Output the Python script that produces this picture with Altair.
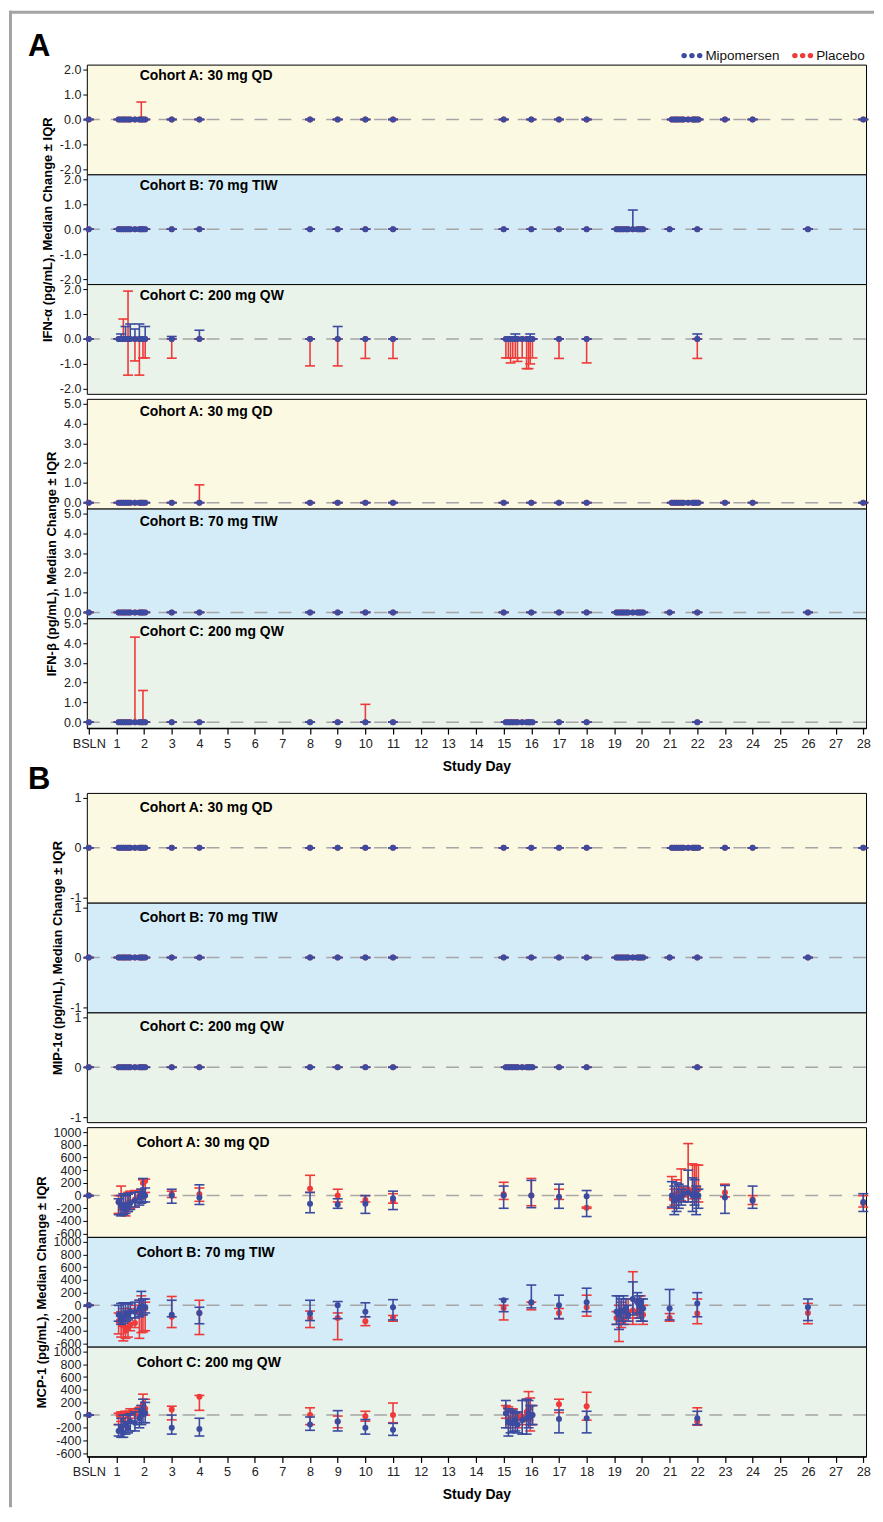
import altair as alt
import pandas as pd

FONT = "Liberation Sans"

# ---------------- categories / axes ----------------
COHORTS = ["A", "B", "C"]
COHORT_LABELS = {"A": "Cohort A: 30 mg QD", "B": "Cohort B: 70 mg TIW", "C": "Cohort C: 200 mg QW"}
SERIES_DRAW = ["Placebo", "Mipomersen"]
LEGEND_ORDER = ["Mipomersen", "Placebo"]
SERIES_COLORS = ["#3B4BA0", "#EF3A3A"]
PANEL_FILLS = {"A": "#FCF9E3", "B": "#D3ECF8", "C": "#EAF3EA"}
X_TICKS = [0, 1, 2, 3, 4, 5, 6, 7, 8, 9, 10, 11, 12, 13, 14, 15, 16, 17, 18, 19, 20,
           21, 22, 23, 24, 25, 26, 27, 28]

DAYS = {
    "A": [0, 1.08, 1.17, 1.25, 1.33, 1.42, 1.5, 1.67, 1.83, 1.9, 1.96, 2.04, 3, 4, 8, 9, 10, 11,
          15, 16, 17, 18, 21.08, 21.17, 21.25, 21.33, 21.42, 21.5, 21.67, 21.83, 21.9, 21.96, 22.04,
          23, 24, 28],
    "B": [0, 1.08, 1.17, 1.25, 1.33, 1.42, 1.5, 1.67, 1.83, 1.9, 1.96, 2.04, 3, 4, 8, 9, 10, 11,
          15, 16, 17, 18, 19.08, 19.17, 19.25, 19.33, 19.42, 19.5, 19.67, 19.83, 19.9, 19.96, 20.04,
          21, 22, 26],
    "C": [0, 1.08, 1.17, 1.25, 1.33, 1.42, 1.5, 1.67, 1.83, 1.9, 1.96, 2.04, 3, 4, 8, 9, 10, 11,
          15.08, 15.17, 15.25, 15.33, 15.42, 15.5, 15.67, 15.83, 15.9, 15.96, 16.04, 17, 18, 22],
}

# ---------------- values (median, IQR low, IQR high) ----------------
NO_CHANGE_36 = [0, 0, 0, 0, 0, 0, 0, 0, 0, 0, 0, 0, 0, 0, 0, 0, 0, 0,
                0, 0, 0, 0, 0, 0, 0, 0, 0, 0, 0, 0, 0, 0, 0, 0, 0, 0]
NO_CHANGE_32 = [0, 0, 0, 0, 0, 0, 0, 0, 0, 0, 0, 0, 0, 0, 0, 0,
                0, 0, 0, 0, 0, 0, 0, 0, 0, 0, 0, 0, 0, 0, 0, 0]

# IFN-alpha
IFNA_A_PLA_HI = [0, 0, 0, 0, 0, 0, 0, 0, 0, 0.7, 0, 0, 0, 0, 0, 0, 0, 0,
                 0, 0, 0, 0, 0, 0, 0, 0, 0, 0, 0, 0, 0, 0, 0, 0, 0, 0]
IFNA_B_MIPO_HI = [0, 0, 0, 0, 0, 0, 0, 0, 0, 0, 0, 0, 0, 0, 0, 0, 0, 0,
                  0, 0, 0, 0, 0, 0, 0, 0, 0, 0, 0.77, 0, 0, 0, 0, 0, 0, 0]
IFNA_C_MIPO_HI = [0, 0, 0.2, 0, 0.5, 0, 0.6, 0.4, 0.6, 0, 0, 0.5, 0.1, 0.35, 0, 0.5,
                  0, 0, 0, 0, 0, 0, 0.2, 0, 0, 0, 0, 0.2, 0, 0, 0, 0.2]
IFNA_C_PLA_LO = [0, 0, 0, 0, 0, -1.45, 0, -0.88, -1.45, 0, -0.76, -0.76, -0.77, 0, -1.08, -1.08,
                 -0.78, -0.78, -0.76, -0.76, -0.96, -0.76, -0.76, -0.9, -0.76, -1.19, -1.19, -1.0,
                 -0.76, -0.78, -0.96, -0.78]
IFNA_C_PLA_HI = [0, 0, 0, 0.8, 0, 1.92, 0, 0, 0, 0, 0, 0, 0, 0, 0, 0,
                 0, 0, 0, 0, 0, 0, 0, 0, 0, 0, 0, 0, 0, 0, 0, 0]

# IFN-beta
IFNB_A_PLA_HI = [0, 0, 0, 0, 0, 0, 0, 0, 0, 0, 0, 0, 0, 0.9, 0, 0, 0, 0,
                 0, 0, 0, 0, 0, 0, 0, 0, 0, 0, 0, 0, 0, 0, 0, 0, 0, 0]
IFNB_C_PLA_HI = [0, 0, 0, 0, 0, 0, 0, 4.3, 0, 0, 1.6, 0, 0, 0, 0, 0,
                 0.9, 0, 0, 0, 0, 0, 0, 0, 0, 0, 0, 0, 0, 0, 0, 0]

# MCP-1
MCP_A_MIPO_MED = [0, -100, -150, -200, -150, -180, -120, -80, -30, 0, 30, 0, 0, -30, -130, -140, -130, -40,
                  0, 0, -20, -10, 0, -80, -50, -30, -20, 30, 50, 0, 30, 0, 0, -30, -80, -100]
MCP_A_MIPO_LO = [0, -300, -320, -300, -280, -250, -220, -180, -150, -120, -100, -100, -120, -140, -270, -200,
                 -280, -220, -200, -190, -200, -330, -180, -300, -250, -200, -150, -100, -100, -250, -150,
                 -300, -200, -280, -200, -250]
MCP_A_MIPO_HI = [0, -50, 0, 30, 0, 20, 40, 50, 60, 100, 270, 120, 100, 170, 50, -50, 0, 70,
                 150, 240, 180, 80, 220, 150, 200, 180, 100, 150, 400, 280, 250, 150, 100, 160, 150, 30]
MCP_A_PLA_MED = [0, -100, -200, -150, -250, -120, -100, -60, 0, 50, 200, 230, 20, 20, 110, 0, -70, -90,
                 20, 0, -20, -190, -50, 0, 20, 50, 30, 60, 100, 80, 100, 80, 100, 50, -60, -120]
MCP_A_PLA_LO = [0, -280, -300, -300, -320, -250, -200, -180, -100, -50, 0, 50, -30, -90, 50, -100, -100, -120,
                -60, -160, -60, -200, -200, -150, -100, -50, -80, -20, 0, -50, -100, -50, -100, -20, -140, -180]
MCP_A_PLA_HI = [0, 0, 150, 20, 0, 50, 70, 80, 60, 100, 250, 260, 70, 120, 320, 100, 0, 30,
                210, 270, 100, -180, 300, 100, 250, 100, 420, 120, 820, 500, 480, 480, 480, 180, 0, 0]

MCP_B_MIPO_MED = [0, -150, -200, -180, -120, -150, -100, -100, -50, -20, -50, -30, -150, -120, -130, 0, -100, -30,
                  80, 50, 0, 50, -100, -150, -80, -100, -50, -150, 100, 50, 0, 50, -50, -50, 30, -30]
MCP_B_MIPO_LO = [0, -250, -300, -280, -250, -230, -200, -200, -180, -150, -150, -120, -180, -290, -240, -210,
                 -180, -230, -100, -40, -210, -100, -300, -380, -250, -300, -200, -250, -150, -120, -200,
                 -250, -250, -230, -180, -240]
MCP_B_MIPO_HI = [0, 0, 30, 40, 30, 20, 40, 50, 80, 220, 100, 100, 80, -30, 80, 60, 40, 90,
                 100, 320, 160, 270, 150, 150, 100, 150, 100, 0, 370, 200, 150, 100, 100, 250, 200, 100]
MCP_B_PLA_MED = [0, -250, -300, -320, -400, -350, -300, -280, -100, -50, -30, -50, -180, -120, -200, -200, -250,
                 -190, -40, 40, -120, -30, -200, -100, -200, -250, -150, -100, -80, -100, -50, -100, -150,
                 -200, -130, -120]
MCP_B_PLA_LO = [0, -450, -500, -560, -520, -500, -400, -350, -520, -430, -420, -400, -350, -460, -350, -540,
                -320, -250, -230, -70, -210, -170, -300, -570, -350, -300, -250, -200, -300, -200, -150,
                -250, -300, -250, -290, -290]
MCP_B_PLA_HI = [0, -120, -100, -50, -150, -100, -50, 0, 80, 150, 100, 50, 140, 80, -90, -120, -180, -160,
                0, 50, -50, 160, -100, 0, 50, -50, 0, 100, 530, 100, 50, 150, 0, -130, 100, 30]

MCP_C_MIPO_MED = [0, -250, -200, -280, -150, -200, -100, -120, -50, 0, 50, 30, -200, -220, -150, -100,
                  -200, -230, 30, -100, -120, -130, -80, -150, -80, -50, 20, -30, 0, -60, -50, -50]
MCP_C_MIPO_LO = [0, -330, -350, -350, -300, -280, -250, -250, -200, -150, -120, -120, -300, -330, -240, -250,
                 -300, -320, -200, -330, -280, -260, -250, -280, -300, -300, -200, -150, -150, -280, -280, -150]
MCP_C_MIPO_HI = [0, -150, -50, 0, -100, 0, 20, 50, 100, 150, 250, 200, 0, -50, -30, 70,
                 -70, -130, 230, 100, 50, 80, 30, 50, 230, 250, 230, 150, 150, 80, 60, 60]
MCP_C_PLA_MED = [0, 0, 20, -80, 30, 0, 50, 20, 80, 100, 180, 100, 90, 290, 0, -100,
                 -20, 0, 120, 80, -50, 50, 0, -50, -30, 50, 100, 120, 0, 170, 140, -100]
MCP_C_PLA_LO = [0, -150, -100, -200, -50, -100, 0, -50, 0, -20, 50, 0, -75, 75, -150, -200,
                -95, -120, -50, -200, -150, -100, -150, -200, -150, -100, -80, -250, -150, 40, -80, -160]
MCP_C_PLA_HI = [0, 30, 50, 0, 60, 40, 100, 80, 120, 150, 330, 250, 140, 310, 115, -15,
                60, 190, 150, 130, 50, 100, 50, 30, 0, 250, 370, 270, 150, 250, 360, 115]

DATA = {
    "IFNA": {
        "A": {"Mipomersen": (NO_CHANGE_36, NO_CHANGE_36, NO_CHANGE_36),
              "Placebo": (NO_CHANGE_36, NO_CHANGE_36, IFNA_A_PLA_HI)},
        "B": {"Mipomersen": (NO_CHANGE_36, NO_CHANGE_36, IFNA_B_MIPO_HI),
              "Placebo": (NO_CHANGE_36, NO_CHANGE_36, NO_CHANGE_36)},
        "C": {"Mipomersen": (NO_CHANGE_32, NO_CHANGE_32, IFNA_C_MIPO_HI),
              "Placebo": (NO_CHANGE_32, IFNA_C_PLA_LO, IFNA_C_PLA_HI)},
    },
    "IFNB": {
        "A": {"Mipomersen": (NO_CHANGE_36, NO_CHANGE_36, NO_CHANGE_36),
              "Placebo": (NO_CHANGE_36, NO_CHANGE_36, IFNB_A_PLA_HI)},
        "B": {"Mipomersen": (NO_CHANGE_36, NO_CHANGE_36, NO_CHANGE_36),
              "Placebo": (NO_CHANGE_36, NO_CHANGE_36, NO_CHANGE_36)},
        "C": {"Mipomersen": (NO_CHANGE_32, NO_CHANGE_32, NO_CHANGE_32),
              "Placebo": (NO_CHANGE_32, NO_CHANGE_32, IFNB_C_PLA_HI)},
    },
    "MIP": {
        "A": {"Mipomersen": (NO_CHANGE_36, NO_CHANGE_36, NO_CHANGE_36),
              "Placebo": (NO_CHANGE_36, NO_CHANGE_36, NO_CHANGE_36)},
        "B": {"Mipomersen": (NO_CHANGE_36, NO_CHANGE_36, NO_CHANGE_36),
              "Placebo": (NO_CHANGE_36, NO_CHANGE_36, NO_CHANGE_36)},
        "C": {"Mipomersen": (NO_CHANGE_32, NO_CHANGE_32, NO_CHANGE_32),
              "Placebo": (NO_CHANGE_32, NO_CHANGE_32, NO_CHANGE_32)},
    },
    "MCP": {
        "A": {"Mipomersen": (MCP_A_MIPO_MED, MCP_A_MIPO_LO, MCP_A_MIPO_HI),
              "Placebo": (MCP_A_PLA_MED, MCP_A_PLA_LO, MCP_A_PLA_HI)},
        "B": {"Mipomersen": (MCP_B_MIPO_MED, MCP_B_MIPO_LO, MCP_B_MIPO_HI),
              "Placebo": (MCP_B_PLA_MED, MCP_B_PLA_LO, MCP_B_PLA_HI)},
        "C": {"Mipomersen": (MCP_C_MIPO_MED, MCP_C_MIPO_LO, MCP_C_MIPO_HI),
              "Placebo": (MCP_C_PLA_MED, MCP_C_PLA_LO, MCP_C_PLA_HI)},
    },
}

ANALYTES = {
    "IFNA": {"title": "IFN-\u03b1 (pg/mL), Median Change \u00b1 IQR", "domain": [-2.2, 2.2],
             "ticks": [-2, -1, 0, 1, 2], "format": ".1f", "lx": 53, "ly": 15.5},
    "IFNB": {"title": "IFN-\u03b2 (pg/mL), Median Change \u00b1 IQR", "domain": [-0.3, 5.25],
             "ticks": [0, 1, 2, 3, 4, 5], "format": ".1f", "lx": 53, "ly": 17.5},
    "MIP": {"title": "MIP-1\u03b1 (pg/mL), Median Change \u00b1 IQR", "domain": [-1.1, 1.1],
            "ticks": [-1, 0, 1], "format": "d", "lx": 53, "ly": 19},
    "MCP": {"title": "MCP-1 (pg/mL), Median Change \u00b1 IQR", "domain": [-651, 1079],
            "ticks": [-600, -400, -200, 0, 200, 400, 600, 800, 1000], "format": "d", "lx": 50, "ly": 20},
}

# ---------------- layout / style ----------------
W = 781
PANEL_H = 110
X_DOMAIN = [-0.07, 28.1]
BORDER_GRAY = "#A3A3A3"

color_enc = alt.Color("series:N", scale=alt.Scale(domain=LEGEND_ORDER, range=SERIES_COLORS), legend=None)


def x_axis():
    return alt.Axis(values=X_TICKS, labelExpr="datum.value == 0 ? 'BSLN' : datum.label",
                    tickSize=6, tickColor="black", tickWidth=1.2, labelPadding=3,
                    labelFontSize=12.7, labelFont=FONT, labelColor="#222222",
                    domain=True, domainColor="black", domainWidth=1.5, grid=False,
                    labelFlush=False, labelOverlap=False,
                    titleFontSize=14, titleFont=FONT, titleFontWeight="bold",
                    titlePadding=10, titleColor="black")


def panel(analyte, cohort, show_x, show_ytitle):
    cfg = ANALYTES[analyte]
    rows = []
    for s in SERIES_DRAW:
        med, lo, hi = DATA[analyte][cohort][s]
        for d, m, l, h in zip(DAYS[cohort], med, lo, hi):
            rows.append({"day": d, "med": m, "lo": l, "hi": h, "series": s})
    df = pd.DataFrame(rows)

    xenc = alt.X("day:Q", scale=alt.Scale(domain=X_DOMAIN, nice=False, zero=False),
                 axis=x_axis() if show_x else None, title="Study Day")
    yaxis = alt.Axis(values=cfg["ticks"], format=cfg["format"],
                     labelExpr="replace(datum.label, '\u2212', '-')",
                     tickSize=4, tickColor="black", labelPadding=2, labelFontSize=12.5,
                     labelFont=FONT, labelColor="#222222", domain=False, grid=False,
                     labelFlush=False, labelOverlap=False,
                     titleFontSize=13, titleFont=FONT, titleFontWeight="bold",
                     titlePadding=5, titleColor="black")
    ytitle = cfg["title"] if show_ytitle else None

    def yenc(field):
        return alt.Y(f"{field}:Q", scale=alt.Scale(domain=cfg["domain"], nice=False, zero=False),
                     axis=yaxis, title=ytitle)

    zero = alt.Chart(pd.DataFrame({"z": [0]})).mark_rule(
        color="#A6A6A6", strokeWidth=1.5, strokeDash=[13, 11]).encode(y=yenc("z"))
    layers = [zero]
    for s in SERIES_DRAW:
        sub = alt.Chart(df[df["series"] == s])
        layers.append(sub.mark_rule(strokeWidth=1.6, opacity=1).encode(
            x=xenc, y=yenc("lo"), y2="hi:Q", color=color_enc))
        layers.append(sub.mark_tick(orient="horizontal", size=10, thickness=1.6, opacity=1).encode(
            x=xenc, y=yenc("lo"), color=color_enc))
        layers.append(sub.mark_tick(orient="horizontal", size=10, thickness=1.6, opacity=1).encode(
            x=xenc, y=yenc("hi"), color=color_enc))
        layers.append(sub.mark_circle(size=36, opacity=1).encode(
            x=xenc, y=yenc("med"), color=color_enc))
    label = alt.Chart(pd.DataFrame({"t": [COHORT_LABELS[cohort]]})).mark_text(
        align="left", baseline="alphabetic", fontSize=14, fontWeight="bold", font=FONT,
        color="black").encode(x=alt.value(cfg["lx"]), y=alt.value(cfg["ly"]), text="t:N")
    layers.append(label)
    return alt.layer(*layers).properties(
        width=W, height=PANEL_H,
        view=alt.ViewBackground(fill=PANEL_FILLS[cohort], stroke="black", strokeWidth=1))


def group(analyte, show_x):
    return [panel(analyte, "A", False, False),
            panel(analyte, "B", False, True),
            panel(analyte, "C", show_x, False)]


def spacer(h):
    one = pd.DataFrame({"k": [0]})
    return alt.Chart(one).mark_rule(opacity=0).encode(
        x=alt.value(0), y=alt.value(0)).properties(
        width=W, height=h, view=alt.ViewBackground(stroke="transparent"))


def header(letter, h, letter_y, with_legend):
    layers = [alt.Chart(pd.DataFrame({"t": [letter]})).mark_text(
        align="left", baseline="alphabetic", fontSize=31, fontWeight="bold", font=FONT,
        color="black").encode(x=alt.value(-59), y=alt.value(letter_y), text="t:N")]
    if with_legend:
        # frame lines of the figure (filled rects: exact bounds)
        one = pd.DataFrame({"k": [0]})
        layers.append(alt.Chart(one).mark_rect(color=BORDER_GRAY, opacity=1).encode(
            x=alt.value(-78), x2=alt.value(789), y=alt.value(0), y2=alt.value(3)))
        layers.append(alt.Chart(one).mark_rect(color=BORDER_GRAY, opacity=1).encode(
            x=alt.value(-78), x2=alt.value(-75), y=alt.value(0), y2=alt.value(1500)))
        dot_start = {"Mipomersen": 598.7, "Placebo": 709.7}
        text_start = {"Mipomersen": 620, "Placebo": 731}
        dots = []
        for s in LEGEND_ORDER:
            for k in range(3):
                dots.append({"series": s, "px": dot_start[s] + 7.8 * k})
        texts = pd.DataFrame([{"series": s, "px": text_start[s]} for s in LEGEND_ORDER])
        layers.append(alt.Chart(pd.DataFrame(dots)).mark_circle(size=30, opacity=1).encode(
            x=alt.X("px:Q", scale=None), y=alt.value(45), color=color_enc))
        layers.append(alt.Chart(texts).mark_text(
            align="left", baseline="middle", fontSize=13.5, font=FONT, color="#111111").encode(
            x=alt.X("px:Q", scale=None), y=alt.value(45.5), text="series:N"))
    return alt.layer(*layers).properties(
        width=W, height=h, view=alt.ViewBackground(stroke="transparent"))


cells = ([header("A", 54, 45, True)]
         + group("IFNA", False)
         + [spacer(5)]
         + group("IFNB", True)
         + [header("B", 65, 61, False)]
         + group("MIP", False)
         + [spacer(5)]
         + group("MCP", True))

chart = alt.vconcat(*cells, spacing=0, bounds="flush").properties(
    padding=0, background="white").configure_axis(grid=False)

chart.save("out.html", embed_options={"renderer": "svg", "actions": False})
